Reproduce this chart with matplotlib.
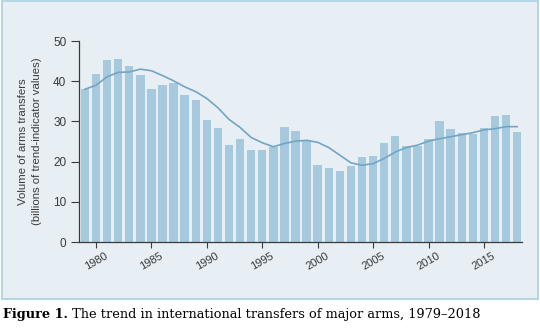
import numpy as np
import matplotlib
matplotlib.use("Agg")
import matplotlib.pyplot as plt
from matplotlib.patches import Rectangle

# yearly transfers and the smoothed trend (billions of TIV)
years = list(range(1979, 2019))
volume = [38.0, 41.8, 45.3, 45.5, 43.9, 41.5, 38.0, 39.0, 39.5, 36.6,
          35.3, 30.4, 28.3, 24.1, 25.7, 22.9, 22.8, 23.7, 28.7, 27.7,
          25.3, 19.2, 18.5, 17.6, 18.9, 21.2, 21.3, 24.7, 26.5, 24.0,
          23.9, 25.7, 30.0, 28.2, 27.0, 26.8, 28.3, 31.4, 31.7, 27.4]
trend = [38.0, 39.0, 41.1, 42.2, 42.3, 43.0, 42.6, 41.4, 40.1, 38.6,
         37.4, 35.7, 33.4, 30.5, 28.5, 26.0, 24.7, 23.7, 24.5, 25.1,
         25.3, 24.8, 23.5, 21.6, 19.7, 19.1, 19.5, 20.8, 22.4, 23.5,
         24.1, 25.1, 25.7, 26.2, 26.7, 27.2, 27.9, 28.2, 28.7, 28.7]
xticks = [1980, 1985, 1990, 1995, 2000, 2005, 2010, 2015]
yticks = [0, 10, 20, 30, 40, 50]

bg = "#e7eff4"
bar_col = "#a6c9dd"
line_col = "#72a5c5"
axis_col = "#3a3a3a"
serif = ["DejaVu Serif"]

plt.rcParams["font.family"] = ["Liberation Sans", "DejaVu Sans"]

fig = plt.figure(figsize=(5.4, 3.28), dpi=100)

# light panel behind the chart
panel = Rectangle((0.003, 0.088), 0.993, 0.908, transform=fig.transFigure,
                  facecolor=bg, edgecolor="#a8cfe0", linewidth=1.2, zorder=-5)
fig.patches.append(panel)

ax = fig.add_axes([0.146, 0.262, 0.821, 0.613])
ax.set_facecolor("none")
ax.bar(years, volume, width=0.76, color=bar_col, zorder=2)
ax.plot(years, trend, color=line_col, linewidth=1.2, zorder=3)

ax.set_xlim(1978.45, 2018.45)
ax.set_ylim(0, 50)
ax.set_xticks(xticks)
ax.set_yticks(yticks)
ax.set_xticklabels([str(t) for t in xticks], rotation=30, fontsize=8,
                   color=axis_col)
ax.set_yticklabels([str(t) for t in yticks], fontsize=8.5, color=axis_col)
ax.tick_params(axis="y", length=6, width=0.8, color=axis_col, pad=3)
ax.tick_params(axis="x", length=4, width=0.8, color=axis_col, pad=2)

for s in ["top", "right"]:
    ax.spines[s].set_visible(False)
for s in ["left", "bottom"]:
    ax.spines[s].set_color(axis_col)
    ax.spines[s].set_linewidth(0.9)

ax.set_ylabel("Volume of arms transfers\n(billions of trend-indicator values)",
              fontsize=8.2, color=axis_col, labelpad=8, linespacing=1.45)

# caption: bold label, then the title right after it
lab = fig.text(0.006, 0.03, "Figure 1.", fontsize=9.3, family=serif,
               weight="bold", va="baseline")
ax.annotate(" The trend in international transfers of major arms, 1979\u20132018",
            xy=(1, 0), xycoords=lab, va="bottom", ha="left",
            fontsize=9.3, family=serif, annotation_clip=False)

fig.savefig("out.png", dpi=100)
